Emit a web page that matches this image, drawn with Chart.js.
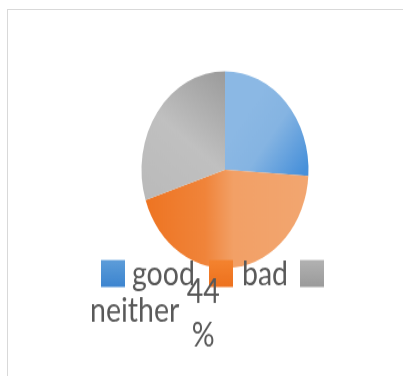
<!DOCTYPE html>
<html>
<head>
<meta charset="utf-8">
<script src="https://cdn.jsdelivr.net/npm/chart.js@4.4.1/dist/chart.umd.min.js"></script>
<style>
  html, body { margin: 0; padding: 0; background: #ffffff; overflow: hidden; }
  body { width: 403px; height: 376px; position: relative; }
  #frame {
    position: absolute; left: 7px; top: 9px; width: 420px; height: 400px;
    border-left: 1.5px solid #d9d9d9; border-top: 1.5px solid #d9d9d9;
    box-sizing: border-box;
  }
  /* the whole drawing is stretched vertically, as in the original sheet */
  #stage {
    position: absolute; left: 0; top: 0; width: 403px; height: 319px;
    transform: scaleY(1.1787); transform-origin: 0 0;
  }
</style>
</head>
<body>
<div id="frame"></div>
<div id="stage"><canvas id="chart"></canvas></div>
<script>
// Survey answers
const categories = ['good', 'bad', 'neither'];
const values = [26, 44, 30];
// only the "bad" share carries a data label
const labelledIndex = [1];

const TEXT = '#595959';
const FONT = '28.5px Lato, "Open Sans", sans-serif';

function geometry(chart) {
  const a = chart.chartArea;
  return { cx: (a.left + a.right) / 2, cy: (a.top + a.bottom) / 2, r: Math.min(a.width, a.height) / 2 };
}

function sliceFill(ctx) {
  const chart = ctx.chart;
  const flat = ['#7fb0e0', '#f18c45', '#b8b8b8'];
  if (!chart.chartArea) return flat[ctx.dataIndex];
  const { cx, cy, r } = geometry(chart);
  const c = chart.ctx;
  let g;
  if (ctx.dataIndex === 0) {
    g = c.createLinearGradient(cx + 0.3 * r, cy - 0.6 * r, cx + r, cy - 0.05 * r);
    g.addColorStop(0, '#8bb8e4');
    g.addColorStop(0.4, '#85b4e2');
    g.addColorStop(1, '#4790da');
  } else if (ctx.dataIndex === 1) {
    g = c.createLinearGradient(cx - r, cy, cx + r, cy);
    g.addColorStop(0, '#ee7320');
    g.addColorStop(0.38, '#f0843a');
    g.addColorStop(0.55, '#f2a066');
    g.addColorStop(1, '#f2a670');
  } else {
    g = c.createLinearGradient(cx - 0.05 * r, cy - r, cx - r, cy + 0.3 * r);
    g.addColorStop(0, '#9c9c9c');
    g.addColorStop(0.5, '#c0c0c0');
    g.addColorStop(1, '#bababa');
  }
  return g;
}

const legendSwatches = [
  ['#5d9dd9', '#3c84cf'],
  ['#f4832f', '#ed711e'],
  ['#b2b2b2', '#9a9a9a']
];

// legend: square + text; the third label wraps onto the next line
const legendPlugin = {
  id: 'sheetLegend',
  afterDraw(chart) {
    const c = chart.ctx;
    const labels = chart.data.labels;
    const items = [
      { sx: 101, tx: 132, ty: 241.8 },
      { sx: 209, tx: 242, ty: 241.8 },
      { sx: 300, tx: 90, ty: 272.9 }
    ];
    c.save();
    items.forEach((it, i) => {
      const g = c.createLinearGradient(0, 220.6, 0, 243.5);
      g.addColorStop(0, legendSwatches[i][0]);
      g.addColorStop(1, legendSwatches[i][1]);
      c.fillStyle = g;
      c.fillRect(it.sx, 220.6, 24, 22.9);
      c.fillStyle = TEXT;
      c.font = FONT;
      c.textBaseline = 'alphabetic';
      c.textAlign = 'left';
      c.fillText(labels[i], it.tx, it.ty);
    });
    c.restore();
  }
};

// value label, wrapped into two lines ("44" / "%")
const valueLabelPlugin = {
  id: 'valueLabel',
  afterDraw(chart) {
    const c = chart.ctx;
    const meta = chart.getDatasetMeta(0);
    c.save();
    c.fillStyle = TEXT;
    c.font = FONT;
    c.textAlign = 'center';
    c.textBaseline = 'alphabetic';
    labelledIndex.forEach(i => {
      const arc = meta.data[i];
      const v = chart.data.datasets[0].data[i];
      const x = arc.x - 0.26 * arc.outerRadius;
      const y = arc.y + 1.355 * arc.outerRadius;
      c.fillText(String(v), x, y);
      c.fillText('%', x, y + 36.8);
    });
    c.restore();
  }
};

new Chart(document.getElementById('chart'), {
  type: 'pie',
  data: {
    labels: categories,
    datasets: [{
      data: values,
      backgroundColor: sliceFill,
      borderWidth: 0,
      hoverOffset: 0
    }]
  },
  options: {
    responsive: true,
    maintainAspectRatio: false,
    animation: false,
    events: [],
    layout: { padding: { left: 141.5, right: 94.5, top: 60.5, bottom: 91.5 } },
    plugins: {
      legend: { display: false },
      tooltip: { enabled: false },
      title: { display: false }
    }
  },
  plugins: [legendPlugin, valueLabelPlugin]
});
</script>
</body>
</html>
